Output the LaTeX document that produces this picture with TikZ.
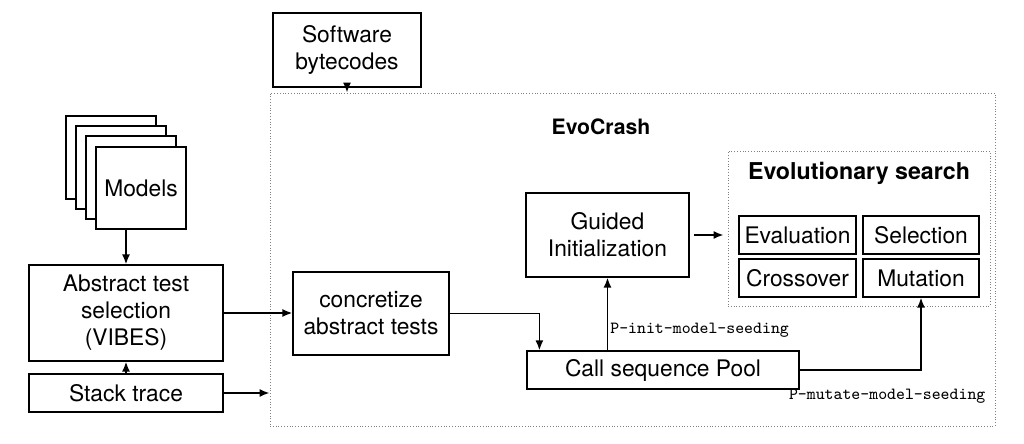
\documentclass[tikz,border=0pt]{standalone}
\usepackage{fontspec}
\setmainfont{TeX Gyre Heros}
\usetikzlibrary{arrows.meta}

\begin{document}
\begin{tikzpicture}
[
	x=0.5pt,y=-0.5pt,
	box/.style={draw,line width=0.6pt,fill=white,inner sep=0pt,align=center,font=\fontsize{11.4}{13.5}\selectfont},
	group/.style={draw=gray,densely dotted,line width=0.4pt,inner sep=0pt},
	title/.style={font=\fontsize{11.6}{14}\selectfont\bfseries,inner sep=0pt},
	flow/.style={-{Latex[length=5pt,width=4pt]},line width=0.85pt},
	seed/.style={font=\fontsize{8.5}{10}\ttfamily,inner sep=0pt}
]

	\useasboundingbox (0,0) rectangle (1024,444);

	% groups
	\node[group,minimum width=362.5pt,minimum height=166.5pt] at (632.5,259.5) (evocrash) {};
	\node[title,font=\fontsize{10.6}{13}\selectfont\bfseries] at (601,127) (evotitle) {EvoCrash};
	\node[group,minimum width=131pt,minimum height=77.5pt] at (859,228.5) (evol) {};
	\node[title] at (859,173) (evoltitle) {Evolutionary search};

	% models stack
	\foreach \k in {0,1,2}
		\node[box,minimum width=45pt,minimum height=41.5pt] at (111+10*\k,157.5+10*\k) (page\k) {};
	\node[box,minimum width=45pt,minimum height=41pt] at (141,188) (models) {Models};

	% inputs
	\node[box,minimum width=97pt,minimum height=48pt] at (126,313) (abstract) {Abstract test\\selection\\(VIBES)};
	\node[box,minimum width=97pt,minimum height=19pt] at (126,393) (stack) {Stack trace};
	\node[box,minimum width=74pt,minimum height=37pt] at (347,50) (software) {Software\\bytecodes};

	% evocrash steps
	\node[box,minimum width=78pt,minimum height=41.5pt] at (371,313.5) (concretize) {concretize\\abstract tests};
	\node[box,minimum width=81.5pt,minimum height=42pt] at (607.5,235) (guided) {Guided\\Initialization};
	\node[box,minimum width=136pt,minimum height=19pt] at (663,370) (pool) {Call sequence Pool};

	% search operators
	\node[box,minimum width=58.5pt,minimum height=19pt] at (797.5,235) (evaluation) {Evaluation};
	\node[box,minimum width=58pt,minimum height=19pt] at (921,235) (selection) {Selection};
	\node[box,minimum width=58.5pt,minimum height=19pt] at (797.5,278) (crossover) {Crossover};
	\node[box,minimum width=58pt,minimum height=19pt] at (921,278) (mutation) {Mutation};

	% arrows
	\draw[flow] (models.south -| abstract.north) -- (abstract.north);
	\draw[flow] (stack.north) -- (abstract.south);
	\draw[flow] (software.south) -- (software.south |- evocrash.north);
	\draw[flow] (stack.east) -- (stack.east -| evocrash.west);
	\draw[flow] (abstract.east) -- (abstract.east -| concretize.west);
	\draw[flow] (concretize.east) -| ([xshift=6.5pt]pool.north west);
	\draw[flow] (pool.north -| guided.south) -- node[seed,anchor=west,pos=0.28,xshift=1pt] (initseed) {P-init-model-seeding} (guided.south);
	\draw[flow,shorten <=2pt,shorten >=2pt] (guided.east) -- (guided.east -| evol.west);
	\draw[flow] (pool.east) -| (mutation.south);
	\node[seed,anchor=west] at ([xshift=-5.5pt,yshift=-3.5pt]pool.south east) (mutateseed) {P-mutate-model-seeding};

\end{tikzpicture}
\end{document}
